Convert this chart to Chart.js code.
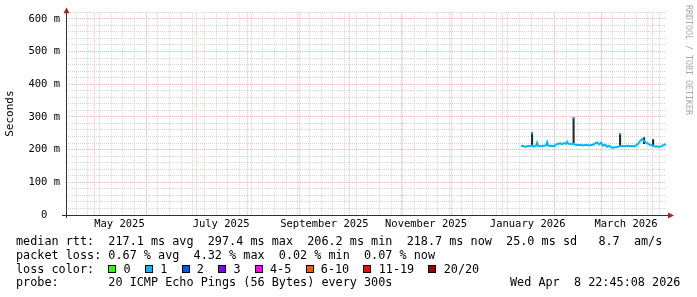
<!DOCTYPE html>
<html>
<head>
<meta charset="utf-8">
<script src="https://cdn.jsdelivr.net/npm/chart.js@4.4.1/dist/chart.umd.min.js"></script>
<style>
  html, body { margin: 0; padding: 0; background: #fff; }
  canvas { display: block; }
</style>
</head>
<body>
<canvas id="smokeChart" width="697" height="297"></canvas>
<script>
// x = days counted from 1 May 2025 00:00, y = milliseconds
const medianDays = [256.0, 257.2, 258.4, 259.6, 260.8, 262.0, 262.6, 263.8, 265.0, 265.6, 266.2, 267.4, 268.6, 269.8,
  271.0, 271.6, 272.2, 273.4, 274.6, 275.8, 277.0, 278.2, 279.4, 280.6, 281.8, 283.0, 283.6, 284.2, 285.4, 286.6,
  287.5, 288.4, 289.6, 290.8, 292.0, 293.2, 294.4, 295.6, 296.8, 298.0, 299.2, 300.4, 301.6, 302.8, 304.0, 305.2,
  306.4, 307.6, 308.8, 310.0, 311.2, 312.4, 313.6, 314.8, 315.4, 316.6, 317.8, 319.0, 320.2, 321.4, 322.6, 323.8,
  325.0, 326.2, 327.4, 328.6, 329.8, 331.0, 332.2, 333.4, 334.6, 335.2, 336.4, 337.6, 338.8, 340.0, 341.2, 342.4, 342.9];
const medianMs = [211, 212, 208, 210, 211, 212, 212, 209, 212, 221, 212, 210, 211, 212,
  213, 223, 213, 211, 212, 210, 216, 218, 219, 217, 220, 218, 224, 219, 217, 218,
  218, 215, 214, 214, 215, 213, 214, 214, 213, 214, 215, 219, 222, 216, 221, 212,
  215, 209, 212, 207, 206, 207, 208, 210, 211, 211, 210, 211, 212, 210, 211, 210,
  213, 218, 226, 232, 226, 221, 218, 214, 213, 212, 209, 210, 208, 210, 213, 216, 219];

// smoke spikes (low / high) and the median value at their top
const smokeDays = [262.6, 287.5, 315.4, 329.8, 335.2];
const smokeLow = [210, 216, 210, 217, 210];
const smokeHigh = [253, 299, 250, 238, 232];
const peakDays = [262.6, 287.5, 315.4];
const peakMs = [250, 297, 248];

const rangeEnd = 342.95;   // Wed Apr 8 2026 22:45
const rangeDays = 360;
const monthStartDays = [0, 31, 61, 92, 123, 153, 184, 214, 245, 276, 304, 335];
const firstSunday = -11;   // 20 Apr 2025
const monthLabelDays = [15, 76, 138, 199, 260, 319];
const monthLabels = ['May 2025', 'July 2025', 'September 2025', 'November 2025', 'January 2026', 'March 2026'];
const yMax = 620;
const yStep = 20;

const lossLabels = ['0', '1', '2', '3', '4-5', '6-10', '11-19', '20/20'];
const lossColors = ['#26ff00', '#00b8ff', '#0059ff', '#7e00ff', '#ff00ff', '#ff5500', '#ff0000', '#a00000'];

const legendRtt = 'median rtt:  217.1 ms avg  297.4 ms max  206.2 ms min  218.7 ms now  25.0 ms sd   8.7  am/s';
const legendLoss = 'packet loss: 0.67 % avg  4.32 % max  0.02 % min  0.07 % now';
const legendProbe = 'probe:       20 ICMP Echo Pings (56 Bytes) every 300s';
const legendDate = 'Wed Apr  8 22:45:08 2026';

const MONO = '"DejaVu Sans Mono", "Liberation Mono", monospace';
const MAJOR_GRID = '#f6b4b4';
const MINOR_GRID = '#d4d4d4';

// build point lists from the arrays
const medianPts = medianDays.map((d, i) => ({ x: d, y: medianMs[i] }));
const smokePts = [];
smokeDays.forEach((d, i) => {
  smokePts.push({ x: d, y: smokeLow[i] }, { x: d, y: smokeHigh[i] }, { x: d, y: null });
});
const peakPts = [];
peakDays.forEach((d, i) => {
  peakPts.push({ x: d - 0.5, y: peakMs[i] }, { x: d + 0.5, y: peakMs[i] }, { x: d, y: null });
});

// Helper: grid + label ticks for the time axis
function buildTimeTicks(scale) {
  const ticks = [];
  for (let d = firstSunday; d <= rangeEnd; d += 7) {
    ticks.push({ value: d, kind: 'week', text: '' });
  }
  monthStartDays.forEach(d => ticks.push({ value: d, kind: 'month', text: '' }));
  monthLabelDays.forEach((d, i) => ticks.push({ value: d + 0.001, kind: 'label', text: monthLabels[i] }));
  ticks.sort((a, b) => a.value - b.value);
  scale.ticks = ticks;
}

const rrdDecor = {
  id: 'rrdDecor',
  afterDraw(chart) {
    const { ctx, chartArea: a } = chart;
    ctx.save();
    // axis lines
    ctx.strokeStyle = '#303030';
    ctx.lineWidth = 1;
    ctx.beginPath();
    ctx.moveTo(a.left - 4, a.bottom + 0.5);
    ctx.lineTo(a.right + 3, a.bottom + 0.5);
    ctx.moveTo(a.left + 0.5, a.bottom + 3);
    ctx.lineTo(a.left + 0.5, a.top - 1);
    ctx.stroke();
    // arrows
    ctx.fillStyle = '#a02828';
    ctx.beginPath();
    ctx.moveTo(a.right + 2, a.bottom + 0.5 - 3);
    ctx.lineTo(a.right + 8, a.bottom + 0.5);
    ctx.lineTo(a.right + 2, a.bottom + 0.5 + 3);
    ctx.closePath();
    ctx.fill();
    ctx.beginPath();
    ctx.moveTo(a.left + 0.5 - 3, a.top + 1);
    ctx.lineTo(a.left + 0.5, a.top - 5);
    ctx.lineTo(a.left + 0.5 + 3, a.top + 1);
    ctx.closePath();
    ctx.fill();

    // watermark
    ctx.save();
    ctx.fillStyle = '#aaaaaa';
    ctx.font = '8.3px ' + MONO;
    ctx.textBaseline = 'middle';
    ctx.translate(688, 5);
    ctx.rotate(Math.PI / 2);
    ctx.fillText('RRDTOOL / TOBI OETIKER', 0, 0);
    ctx.restore();

    // legend text
    const cw = 7.1;
    ctx.font = '11.8px ' + MONO;
    ctx.fillStyle = '#000';
    ctx.textBaseline = 'middle';
    ctx.fillText(legendRtt, 16, 241.5);
    ctx.fillText(legendLoss, 16, 255.5);
    ctx.fillText('loss color:', 16, 269.5);
    ctx.fillText(legendProbe, 16, 283);
    ctx.fillText(legendDate, 510, 283);

    let bx = 16 + 13 * cw;
    lossLabels.forEach((lab, i) => {
      ctx.fillStyle = lossColors[i];
      ctx.fillRect(Math.round(bx), 265, 8, 8);
      ctx.strokeStyle = '#000';
      ctx.strokeRect(Math.round(bx) + 0.5, 265.5, 7, 7);
      ctx.fillStyle = '#000';
      const lx = bx + 15.3;
      ctx.fillText(lab, lx, 269.5);
      bx = lx + (lab.length + 2) * cw;
    });
    ctx.restore();
  }
};

new Chart(document.getElementById('smokeChart'), {
  type: 'line',
  data: {
    datasets: [
      {
        label: 'median rtt',
        data: medianPts,
        borderColor: '#00b8ff',
        borderWidth: 2,
        pointRadius: 0,
        tension: 0
      },
      {
        label: 'median peaks',
        data: peakPts,
        borderColor: '#00b8ff',
        borderWidth: 2,
        pointRadius: 0,
        spanGaps: false
      },
      {
        label: 'smoke',
        data: smokePts,
        borderColor: '#222222',
        borderWidth: 2,
        pointRadius: 0,
        spanGaps: false
      }
    ]
  },
  options: {
    responsive: false,
    animation: false,
    devicePixelRatio: 1,
    layout: { padding: { left: 0, right: 31, top: 12, bottom: 0 } },
    plugins: { legend: { display: false }, tooltip: { enabled: false } },
    scales: {
      x: {
        type: 'linear',
        min: rangeEnd - rangeDays,
        max: rangeEnd,
        afterBuildTicks: buildTimeTicks,
        afterFit: s => { s.height = 82; },
        border: { display: false, dash: [1, 1] },
        grid: {
          drawTicks: false,
          lineWidth: 1,
          color: c => {
            const k = c.tick && c.tick.kind;
            if (k === 'month') return MAJOR_GRID;
            if (k === 'week') return MINOR_GRID;
            return 'rgba(0,0,0,0)';
          }
        },
        ticks: {
          autoSkip: false,
          maxRotation: 0,
          padding: 3,
          color: '#000',
          font: { family: MONO, size: 10.5 },
          callback: function (v, i, ticks) { return ticks[i].text; }
        }
      },
      y: {
        min: 0,
        max: yMax,
        afterFit: s => { s.width = 66; },
        border: { display: false, dash: [1, 1] },
        grid: {
          drawTicks: false,
          lineWidth: 1,
          color: c => (c.tick.value % 100 === 0 ? MAJOR_GRID : MINOR_GRID)
        },
        ticks: {
          stepSize: yStep,
          autoSkip: false,
          padding: 6,
          color: '#000',
          font: { family: MONO, size: 10.5 },
          callback: v => (v % 100 !== 0 ? '' : (v === 0 ? '0  ' : v + ' m'))
        },
        title: {
          display: true,
          text: 'Seconds',
          color: '#000',
          font: { family: MONO, size: 11 },
          padding: { top: 4, bottom: 0 }
        }
      }
    }
  },
  plugins: [rrdDecor]
});
</script>
</body>
</html>
